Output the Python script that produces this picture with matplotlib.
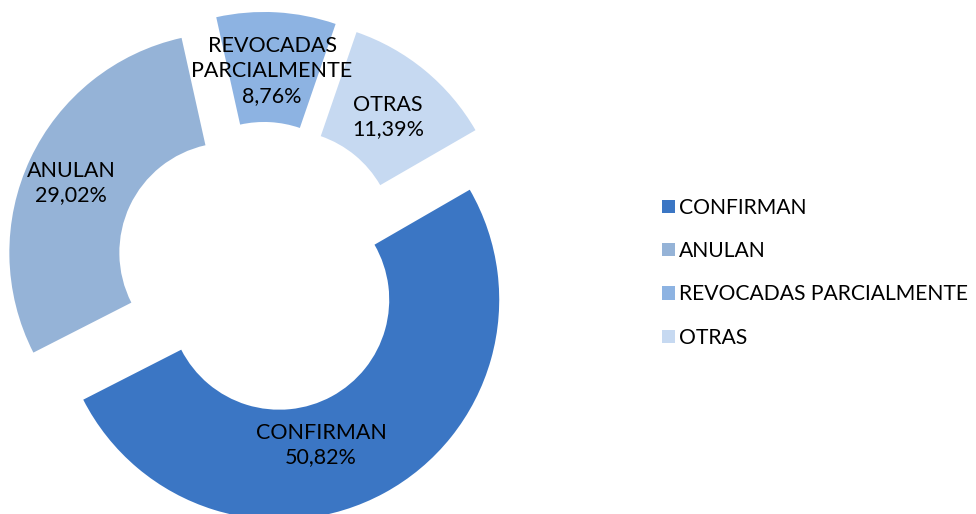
import matplotlib
matplotlib.use("Agg")
import matplotlib.pyplot as plt

plt.rcParams["font.family"] = ["Lato", "DejaVu Sans"]

categories = ["CONFIRMAN", "ANULAN", "REVOCADAS PARCIALMENTE", "OTRAS"]
shares = [50.82, 29.02, 8.76, 11.39]
label_texts = ["CONFIRMAN\n50,82%", "ANULAN\n29,02%", "REVOCADAS\nPARCIALMENTE\n8,76%", "OTRAS\n11,39%"]

colors = ["#3b76c4", "#95b3d7", "#8db3e2", "#c6d9f1"]
# label centres in pixels (from top-left)
label_pos = [(321, 445), (71, 183), (272, 71), (388, 117)]

W, H = 976, 514
CX, CY, R = 262, 246, 220   # pie centre (px from bottom-left) and radius in px

fig = plt.figure(figsize=(W / 100, H / 100), dpi=100)
ax = fig.add_axes([0, 0, 1, 1])

wedges, _ = ax.pie(shares, colors=colors, startangle=30, counterclock=False,
                   explode=[0.164] * 4, radius=1.0,
                   wedgeprops=dict(width=0.5, linewidth=0))

ax.set_xlim(-CX / R, (W - CX) / R)
ax.set_ylim(-CY / R, (H - CY) / R)
ax.set_aspect("equal")
ax.axis("off")

for txt, (px, py) in zip(label_texts, label_pos):
    fig.text(px / W, 1 - py / H, txt, ha="center", va="center",
             fontsize=15.5, color="black", linespacing=1.3)

# legend sits at the right edge, the long entry almost touches it
leg = fig.legend(wedges, categories, loc="upper left",
                 bbox_to_anchor=(643 / W, 1 - 179 / H), frameon=False,
                 fontsize=15.2, handlelength=0.6, handleheight=0.6,
                 handletextpad=0.2, labelspacing=1.1)

fig.savefig("out.png", dpi=100)
